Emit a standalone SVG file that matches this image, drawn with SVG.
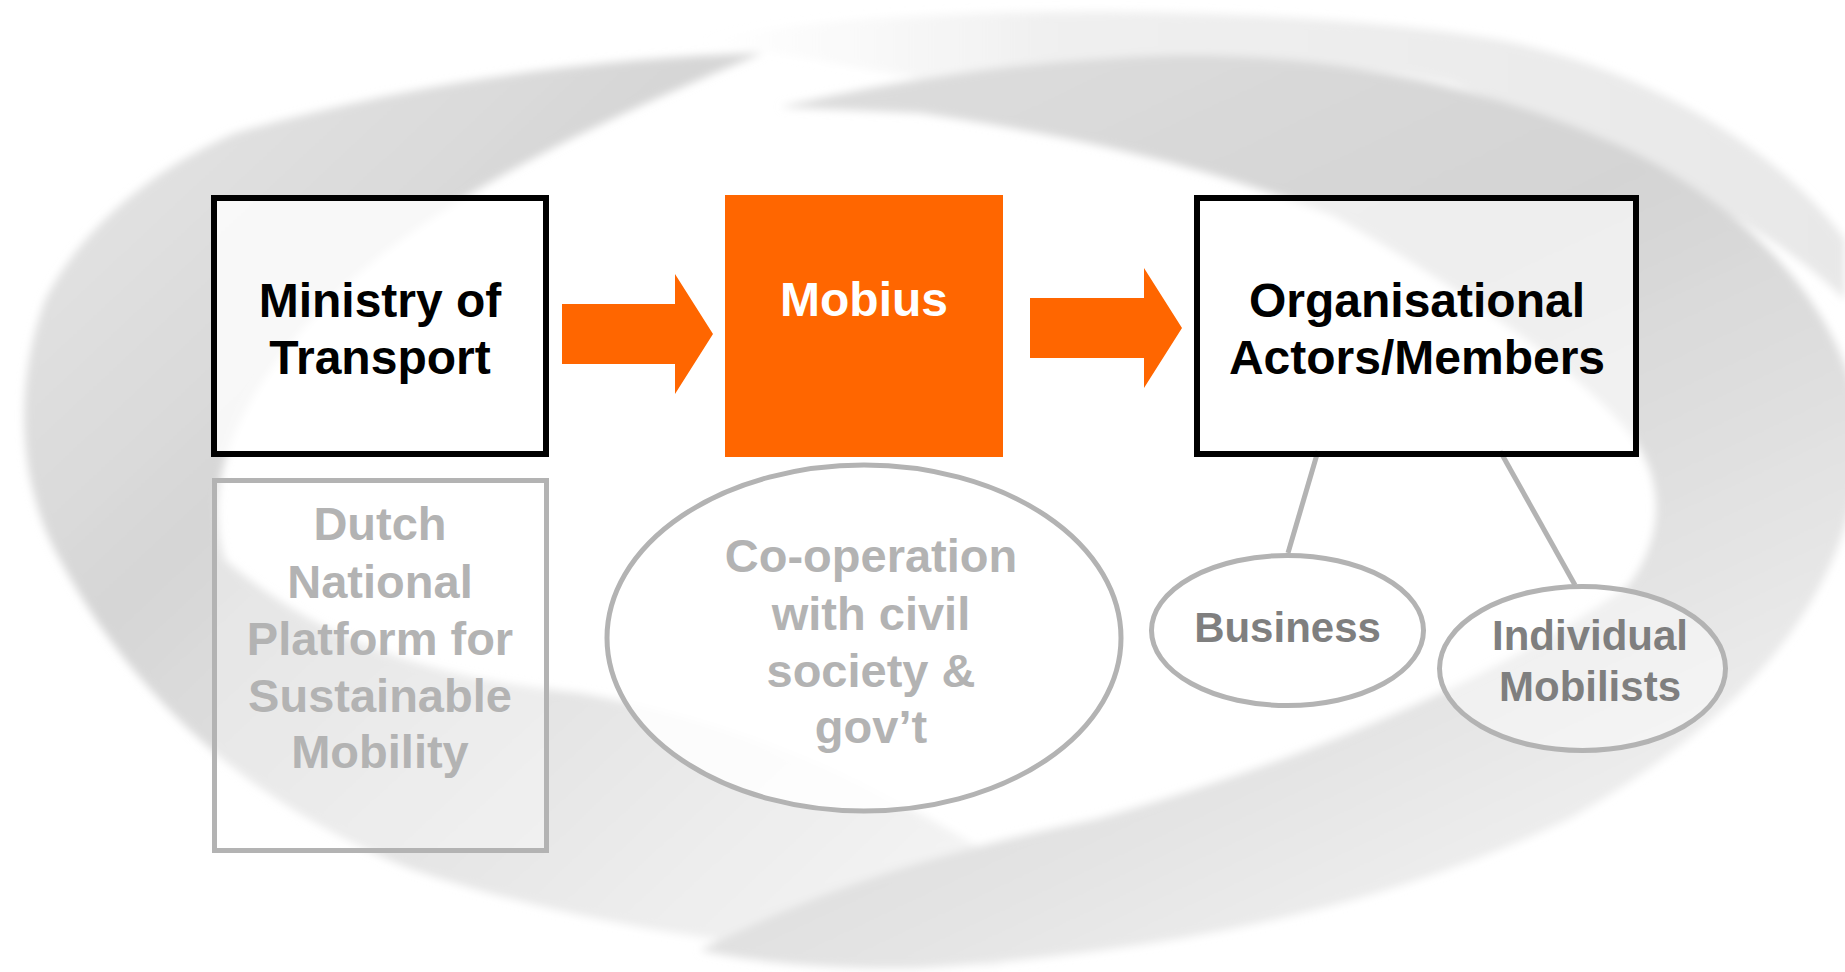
<svg xmlns="http://www.w3.org/2000/svg" width="1845" height="972" viewBox="0 0 1845 972">
<defs>
<style>
text{font-family:"Liberation Sans",Arial,Helvetica,sans-serif;font-weight:bold;text-anchor:middle}
.dark{fill:#000;font-size:48px}
.faint{fill:#b3b3b3;font-size:47px}
.mid{fill:#7f7f7f;font-size:42px}
.boxk{fill:#fff;stroke:#000;stroke-width:6}
.boxg{fill:#fff;fill-opacity:0.35;stroke:#b3b3b3;stroke-width:5}
.ell{stroke:#b3b3b3;stroke-width:5;fill:#fff}
.link{stroke:#b3b3b3;stroke-width:5;fill:none}
.arrow{fill:#ff6600}
</style>
<linearGradient id="gL" x1="0" y1="0" x2="1" y2="1">
<stop offset="0" stop-color="#e8e8e8"/>
<stop offset="0.35" stop-color="#d6d6d6"/>
<stop offset="0.7" stop-color="#e8e8e8"/>
<stop offset="1" stop-color="#f8f8f8"/>
</linearGradient>
<linearGradient id="gT" x1="0" y1="0" x2="0.6" y2="1">
<stop offset="0" stop-color="#dedede"/>
<stop offset="0.45" stop-color="#d4d4d4"/>
<stop offset="0.8" stop-color="#e4e4e4"/>
<stop offset="1" stop-color="#f0f0f0"/>
</linearGradient>
<linearGradient id="gH" x1="0" y1="0" x2="1" y2="0">
<stop offset="0" stop-color="#f4f4f4" stop-opacity="0"/>
<stop offset="0.3" stop-color="#f0f0f0"/>
<stop offset="1" stop-color="#e8e8e8"/>
</linearGradient>
<filter id="soft" x="-5%" y="-5%" width="110%" height="110%">
<feGaussianBlur stdDeviation="4"/>
</filter>
</defs>
<rect width="1845" height="972" fill="#fff"/>
<g id="background" filter="url(#soft)">
<path d="M700,40 C900,0 1300,5 1500,40 C1650,70 1780,150 1845,240 L1845,300 C1780,233 1629,150 1452,83 C1300,50 1100,52 920,78 Z" fill="url(#gH)"/>
<path d="M763,53 C600,58 420,80 235,133 C150,170 80,230 45,300 C15,380 15,480 60,560 C130,690 240,800 411,869 C560,920 760,955 1000,966 L1000,860 C900,800 780,730 580,693 C450,680 330,650 225,560 C200,480 240,390 330,300 C430,200 600,120 763,53 Z" fill="url(#gL)"/>
<path d="M780,107 C880,85 1000,60 1180,55 C1350,55 1500,90 1629,150 C1760,215 1850,320 1860,430 C1860,560 1780,700 1569,819 C1400,900 1200,950 920,968 C820,970 740,960 700,950 C800,900 900,860 1097,819 C1333,752 1510,669 1628,586 C1670,530 1660,470 1629,433 C1580,370 1452,283 1334,216 C1215,170 1100,140 920,113 Z" fill="url(#gT)"/>
</g>
<g id="connectors">
<polygon class="arrow" points="562,304 675,304 675,274 713,334 675,394 675,364 562,364"/>
<polygon class="arrow" points="1030,298 1144,298 1144,268 1182,328 1144,388 1144,358 1030,358"/>
<line class="link" x1="1318" y1="451" x2="1288" y2="553"/>
<line class="link" x1="1500" y1="451" x2="1575" y2="585"/>
</g>
<g id="ministry">
<rect class="boxk" x="214" y="198" width="332" height="256" fill-opacity="0.8"/>
<text class="dark" x="380" y="317">Ministry of</text>
<text class="dark" x="380" y="374">Transport</text>
</g>
<g id="mobius">
<rect x="725" y="195" width="278" height="262" fill="#ff6600"/>
<text x="864" y="316" fill="#fff" font-size="48">Mobius</text>
</g>
<g id="organisational">
<rect class="boxk" x="1197" y="198" width="439" height="256" fill-opacity="0.6"/>
<text class="dark" x="1417" y="317">Organisational</text>
<text class="dark" x="1417" y="374">Actors/Members</text>
</g>
<g id="dutch">
<rect class="boxg" x="214.5" y="480.5" width="332" height="370"/>
<text class="faint" x="380" y="540">Dutch</text>
<text class="faint" x="380" y="598">National</text>
<text class="faint" x="380" y="655">Platform for</text>
<text class="faint" x="380" y="712">Sustainable</text>
<text class="faint" x="380" y="768">Mobility</text>
</g>
<g id="cooperation">
<ellipse class="ell" cx="864" cy="638" rx="257" ry="173" fill-opacity="0.85"/>
<text class="faint" x="871" y="572">Co-operation</text>
<text class="faint" x="871" y="630">with civil</text>
<text class="faint" x="871" y="687">society &amp;</text>
<text class="faint" x="871" y="743">gov’t</text>
</g>
<g id="business">
<ellipse class="ell" cx="1287.5" cy="630.5" rx="136" ry="75" fill-opacity="0.85"/>
<text class="mid" x="1287.5" y="642">Business</text>
</g>
<g id="individual">
<ellipse class="ell" cx="1582.5" cy="668.5" rx="143" ry="82" fill-opacity="0.45"/>
<text class="mid" x="1590" y="650">Individual</text>
<text class="mid" x="1590" y="701">Mobilists</text>
</g>
</svg>
